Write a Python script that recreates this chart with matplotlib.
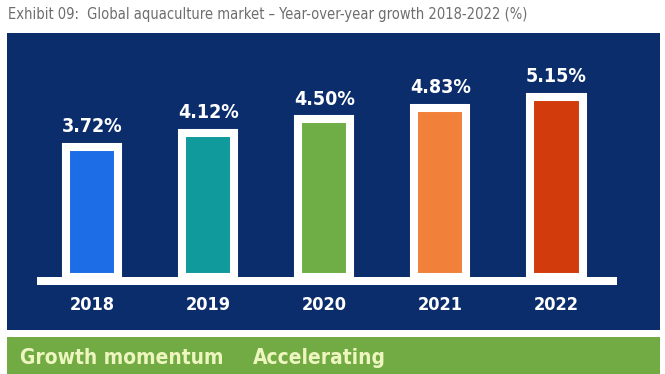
import matplotlib
matplotlib.use("Agg")
import matplotlib.pyplot as plt
from matplotlib.patches import Rectangle

years = ["2018", "2019", "2020", "2021", "2022"]
growth = [3.72, 4.12, 4.50, 4.83, 5.15]
labels = ["3.72%", "4.12%", "4.50%", "4.83%", "5.15%"]
colors = ["#1c6de6", "#109a9c", "#6fae46", "#f0803a", "#d23c0c"]

title = "Exhibit 09:  Global aquaculture market \u2013 Year-over-year growth 2018-2022 (%)"
footer_key = "Growth momentum"
footer_val = "Accelerating"

FONT = ["Liberation Sans Narrow", "DejaVu Sans"]
ST = "condensed"
W, H = 665, 374
fig = plt.figure(figsize=(W / 100, H / 100), dpi=100)
fig.patch.set_facecolor("white")

def fx(px):
    return px / W

def fy(px):
    return 1 - px / H

# title
fig.text(fx(8), fy(15), title, family=FONT, fontstretch=ST, fontsize=10.5,
         color="#6e6e6e", va="center", ha="left")

# navy panel axes
ax = fig.add_axes([fx(7), fy(330), fx(653), (330 - 33) / H])
ax.set_facecolor("#0c2d6c")
for s in ax.spines.values():
    s.set_visible(False)
ax.set_xticks([])
ax.set_yticks([])

x = list(range(len(years)))
ax.set_xlim(-0.732, 4.892)
ax.set_ylim(-1.514, 6.971)

ax.bar(x, growth, width=0.45, color=colors, edgecolor="white",
       linewidth=5.8, zorder=3)
# baseline
ax.add_patch(Rectangle((-0.474, -0.229), 4.996, 0.229, facecolor="white",
                       edgecolor="none", zorder=4))

for xi, g, lab in zip(x, growth, labels):
    ax.text(xi, g + 0.42, lab, family=FONT, fontstretch=ST, fontsize=14,
            fontweight="bold", color="white", ha="center", va="baseline", zorder=5)
for xi, yr in zip(x, years):
    ax.text(xi, -0.80, yr, family=FONT, fontstretch=ST, fontsize=13,
            fontweight="bold", color="white", ha="center", va="center", zorder=5)

# green footer strip
fax = fig.add_axes([fx(7), 0, fx(653), (374 - 337) / H])
fax.set_facecolor("#72aa44")
for s in fax.spines.values():
    s.set_visible(False)
fax.set_xticks([])
fax.set_yticks([])
fax.set_xlim(0, 653)
fax.set_ylim(0, 37)
fax.text(13, 16, footer_key, family=FONT, fontstretch=ST, fontsize=15,
         fontweight="bold", color="#eef6c0", ha="left", va="center")
fax.text(246, 16, footer_val, family=FONT, fontstretch=ST, fontsize=15,
         fontweight="bold", color="#eef6c0", ha="left", va="center")

fig.savefig("out.png", dpi=100, facecolor=fig.get_facecolor())
